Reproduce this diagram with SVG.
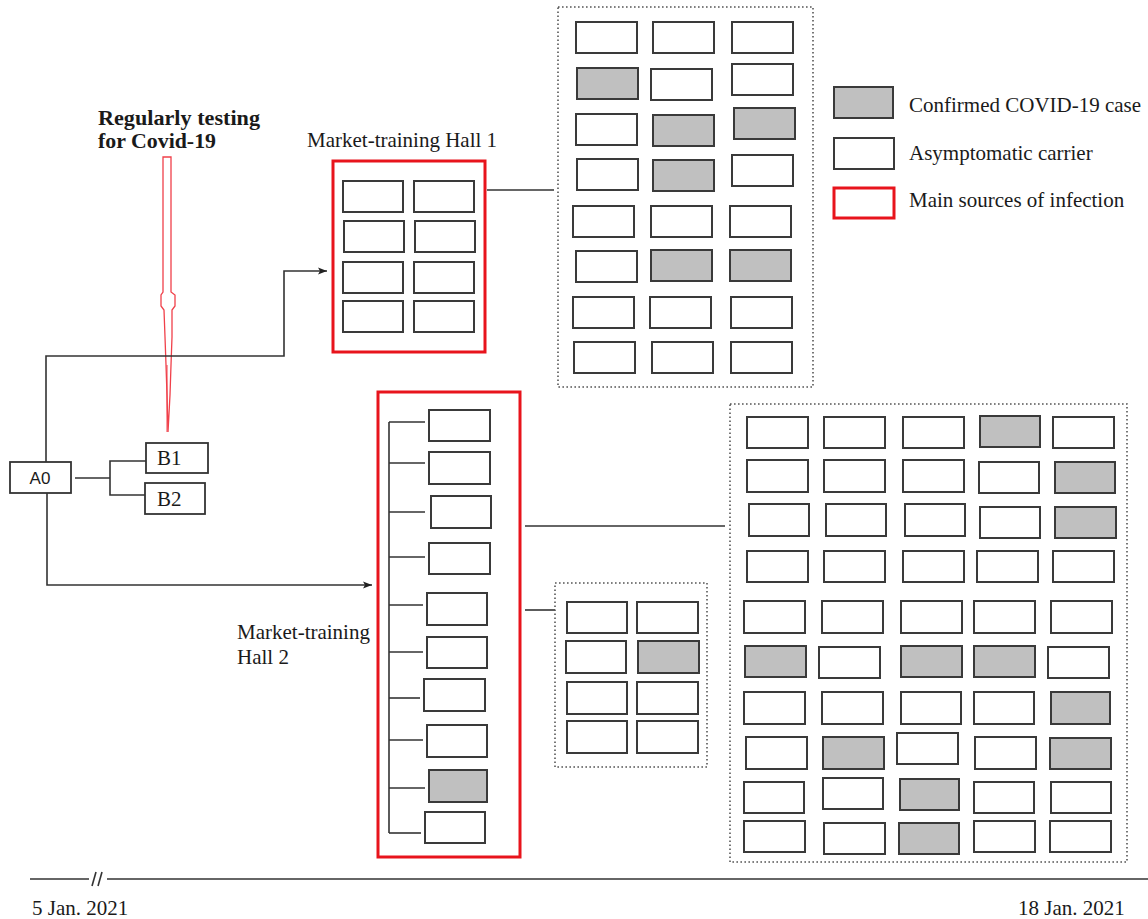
<svg xmlns="http://www.w3.org/2000/svg" width="1148" height="919" viewBox="0 0 1148 919">
<style>
text{font-family:"Liberation Serif","Times New Roman",serif;font-size:21px;fill:#1a1a1a}
.b{font-weight:bold}
.sans{font-family:"Liberation Sans",Arial,sans-serif;font-size:17px}
.c rect{fill:#fff;stroke:#3a3a3a;stroke-width:2}
.c rect.g{fill:#c0c0c0}
.red{fill:none;stroke:#e8141c;stroke-width:3}
.dot{fill:none;stroke:#555;stroke-width:1.6;stroke-dasharray:1.6 2.4}
.ln{fill:none;stroke:#333;stroke-width:1.6}
.box{fill:#fff;stroke:#333;stroke-width:1.8}
</style>
<defs>
<marker id="ar" markerWidth="10" markerHeight="8" refX="9" refY="4" orient="auto" markerUnits="userSpaceOnUse">
<path d="M0,0.5 L9,4 L0,7.5 L2,4 Z" fill="#222"/>
</marker>
</defs>
<rect width="1148" height="919" fill="#fff"/>

<g id="testing-label">
<text class="b" x="98" y="125" textLength="162" lengthAdjust="spacingAndGlyphs">Regularly testing</text>
<text class="b" x="98" y="148" textLength="118" lengthAdjust="spacingAndGlyphs">for Covid-19</text>
<path d="M163,157 L171,157 L171,292 L175,295 L175,306 L172,310 L172,337 L171,365 L170,395 L168,432 L167,395 L166,365 L165,337 L164,310 L161,306 L161,295 L163,292 Z" fill="none" stroke="#f0404a" stroke-width="1.3"/>
<line x1="167" y1="365" x2="167" y2="432" stroke="#f0404a" stroke-width="1"/>
</g>

<g id="connectors">
<polyline class="ln" points="46,462 46,356 284,356 284,271 327,271" marker-end="url(#ar)"/>
<polyline class="ln" points="47,493 47,585 372,585" marker-end="url(#ar)"/>
<line class="ln" x1="75" y1="478" x2="110" y2="478"/>
<polyline class="ln" points="146,461 110,461 110,495 146,495"/>
<line class="ln" x1="487" y1="190" x2="554" y2="190"/>
<line class="ln" x1="525" y1="526" x2="725" y2="526"/>
<line class="ln" x1="525" y1="610" x2="555" y2="610"/>
<line class="ln" x1="30" y1="879" x2="89" y2="879"/>
<line class="ln" x1="107" y1="879" x2="1148" y2="879"/>
<line class="ln" x1="96" y1="872" x2="92" y2="886"/>
<line class="ln" x1="102" y1="872" x2="98" y2="886"/>
</g>

<g id="A0">
<rect class="box" x="10" y="462" width="61" height="31"/>
<text class="sans" x="40" y="484" text-anchor="middle">A0</text>
</g>
<g id="B1">
<rect class="box" x="146" y="443" width="62" height="30"/>
<text x="157" y="465">B1</text>
</g>
<g id="B2">
<rect class="box" x="145" y="483" width="60" height="31"/>
<text x="157" y="506">B2</text>
</g>

<g id="hall1" class="c">
<text x="307" y="147">Market-training Hall 1</text>
<rect class="red" x="333" y="161" width="152" height="191" style="fill:none;stroke:#e8141c;stroke-width:3"/>
<rect x="343" y="181" width="60" height="31"/><rect x="414" y="181" width="60" height="31"/>
<rect x="344" y="221" width="60" height="31"/><rect x="415" y="221" width="60" height="31"/>
<rect x="343" y="262" width="60" height="31"/><rect x="414" y="262" width="60" height="31"/>
<rect x="343" y="301" width="60" height="31"/><rect x="414" y="301" width="60" height="31"/>
</g>

<g id="hall1-contacts" class="c">
<rect class="dot" x="558" y="7" width="255" height="380" style="fill:none;stroke:#555;stroke-width:1.6;stroke-dasharray:1.6 2.4"/>
<rect x="576" y="22" width="61" height="31"/><rect x="653" y="22" width="61" height="31"/><rect x="732" y="22" width="61" height="31"/>
<rect class="g" x="577" y="68" width="61" height="31"/><rect x="651" y="69" width="61" height="31"/><rect x="732" y="64" width="61" height="31"/>
<rect x="576" y="114" width="61" height="31"/><rect class="g" x="653" y="115" width="61" height="31"/><rect class="g" x="734" y="108" width="61" height="31"/>
<rect x="577" y="159" width="61" height="31"/><rect class="g" x="653" y="160" width="61" height="31"/><rect x="732" y="155" width="61" height="31"/>
<rect x="573" y="206" width="61" height="31"/><rect x="651" y="206" width="61" height="31"/><rect x="730" y="206" width="61" height="31"/>
<rect x="576" y="251" width="61" height="31"/><rect class="g" x="651" y="250" width="61" height="31"/><rect class="g" x="730" y="250" width="61" height="31"/>
<rect x="573" y="297" width="61" height="31"/><rect x="650" y="297" width="61" height="31"/><rect x="731" y="297" width="61" height="31"/>
<rect x="574" y="342" width="61" height="31"/><rect x="652" y="342" width="61" height="31"/><rect x="731" y="342" width="61" height="31"/>
</g>

<g id="legend" class="c">
<rect class="g" x="834" y="87" width="59" height="31"/>
<text x="909" y="112">Confirmed COVID-19 case</text>
<rect x="834" y="138" width="60" height="31"/>
<text x="909" y="160">Asymptomatic carrier</text>
<rect x="834" y="188" width="60" height="30" style="fill:#fff;stroke:#e8141c;stroke-width:3"/>
<text x="909" y="207">Main sources of infection</text>
</g>

<g id="hall2" class="c">
<text x="237" y="639">Market-training</text>
<text x="237" y="664">Hall 2</text>
<rect x="378" y="392" width="142" height="465" style="fill:none;stroke:#e8141c;stroke-width:3"/>
<line class="ln" x1="389" y1="422" x2="389" y2="833"/>
<line class="ln" x1="389" y1="422" x2="425" y2="422"/>
<line class="ln" x1="389" y1="463" x2="425" y2="463"/>
<line class="ln" x1="389" y1="512" x2="425" y2="512"/>
<line class="ln" x1="389" y1="557" x2="425" y2="557"/>
<line class="ln" x1="389" y1="605" x2="423" y2="605"/>
<line class="ln" x1="389" y1="652" x2="423" y2="652"/>
<line class="ln" x1="389" y1="698" x2="420" y2="698"/>
<line class="ln" x1="389" y1="740" x2="423" y2="740"/>
<line class="ln" x1="389" y1="788" x2="425" y2="788"/>
<line class="ln" x1="389" y1="833" x2="421" y2="833"/>
<rect x="429" y="410" width="61" height="31"/>
<rect x="429" y="452" width="61" height="32"/>
<rect x="431" y="496" width="60" height="32"/>
<rect x="429" y="543" width="61" height="31"/>
<rect x="427" y="593" width="60" height="32"/>
<rect x="427" y="637" width="60" height="31"/>
<rect x="424" y="679" width="61" height="32"/>
<rect x="427" y="725" width="60" height="32"/>
<rect class="g" x="429" y="770" width="58" height="32"/>
<rect x="425" y="812" width="60" height="31"/>
</g>

<g id="hall2-small" class="c">
<rect x="555" y="583" width="152" height="184" style="fill:none;stroke:#555;stroke-width:1.6;stroke-dasharray:1.6 2.4"/>
<rect x="567" y="602" width="60" height="31"/><rect x="637" y="602" width="61" height="31"/>
<rect x="566" y="641" width="60" height="32"/><rect class="g" x="638" y="641" width="61" height="32"/>
<rect x="567" y="682" width="60" height="32"/><rect x="637" y="682" width="61" height="32"/>
<rect x="567" y="721" width="60" height="32"/><rect x="637" y="721" width="61" height="32"/>
</g>

<g id="hall2-large" class="c">
<rect x="730" y="404" width="397" height="458" style="fill:none;stroke:#555;stroke-width:1.6;stroke-dasharray:1.6 2.4"/>
<rect x="747" y="417" width="61" height="31"/><rect x="824" y="417" width="61" height="31"/><rect x="903" y="417" width="61" height="31"/><rect class="g" x="980" y="416" width="60" height="31"/><rect x="1053" y="417" width="61" height="31"/>
<rect x="747" y="460" width="61" height="32"/><rect x="824" y="460" width="61" height="32"/><rect x="903" y="460" width="61" height="32"/><rect x="979" y="462" width="60" height="31"/><rect class="g" x="1055" y="462" width="60" height="31"/>
<rect x="749" y="504" width="60" height="32"/><rect x="826" y="504" width="60" height="32"/><rect x="905" y="504" width="60" height="32"/><rect x="980" y="507" width="60" height="31"/><rect class="g" x="1055" y="507" width="61" height="31"/>
<rect x="747" y="551" width="61" height="31"/><rect x="824" y="551" width="61" height="31"/><rect x="903" y="551" width="61" height="31"/><rect x="977" y="551" width="61" height="31"/><rect x="1053" y="551" width="61" height="31"/>
<rect x="744" y="601" width="61" height="32"/><rect x="822" y="601" width="61" height="32"/><rect x="901" y="601" width="61" height="32"/><rect x="974" y="601" width="61" height="32"/><rect x="1051" y="601" width="61" height="32"/>
<rect class="g" x="745" y="646" width="61" height="31"/><rect x="819" y="647" width="61" height="31"/><rect class="g" x="901" y="646" width="61" height="31"/><rect class="g" x="974" y="646" width="61" height="31"/><rect x="1048" y="647" width="61" height="31"/>
<rect x="744" y="692" width="61" height="32"/><rect x="822" y="692" width="61" height="32"/><rect x="901" y="692" width="60" height="32"/><rect x="974" y="692" width="60" height="32"/><rect class="g" x="1051" y="692" width="59" height="32"/>
<rect x="746" y="737" width="61" height="32"/><rect class="g" x="823" y="737" width="61" height="32"/><rect x="897" y="733" width="61" height="31"/><rect x="975" y="737" width="61" height="32"/><rect class="g" x="1050" y="738" width="61" height="31"/>
<rect x="744" y="782" width="60" height="31"/><rect x="823" y="778" width="60" height="31"/><rect class="g" x="900" y="779" width="59" height="31"/><rect x="974" y="782" width="60" height="31"/><rect x="1051" y="782" width="60" height="31"/>
<rect x="744" y="821" width="61" height="31"/><rect x="824" y="823" width="61" height="31"/><rect class="g" x="899" y="823" width="60" height="31"/><rect x="974" y="821" width="61" height="31"/><rect x="1050" y="821" width="61" height="31"/>
</g>

<g id="timeline">
<text x="32" y="915">5 Jan. 2021</text>
<text x="1018" y="915">18 Jan. 2021</text>
</g>
</svg>
